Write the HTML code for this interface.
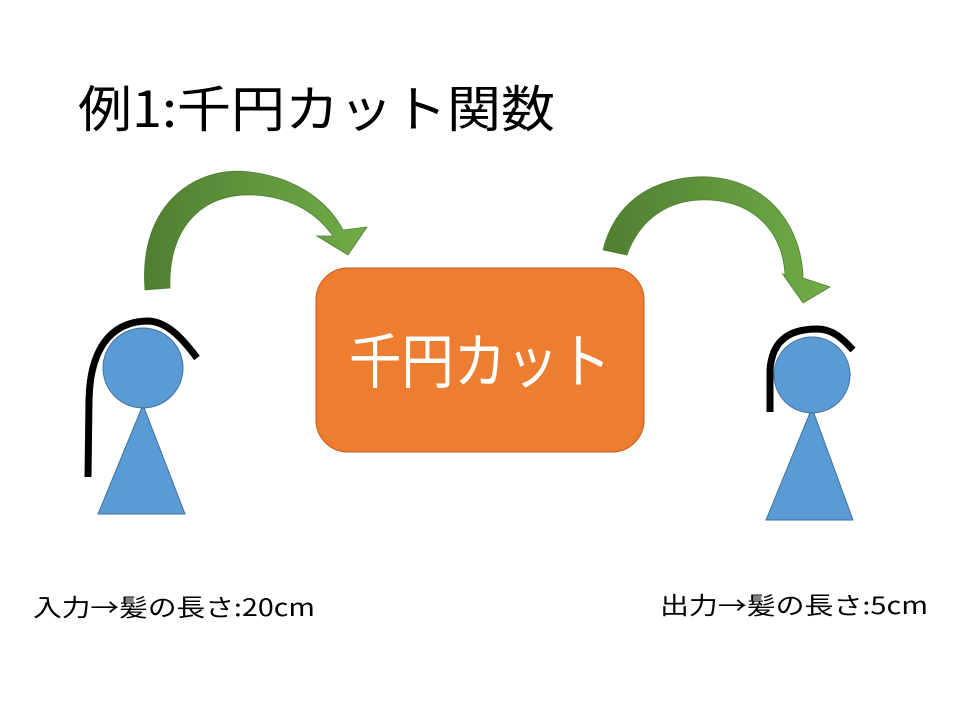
<!DOCTYPE html>
<html><head><meta charset="utf-8"><style>
html,body{margin:0;padding:0;background:#fff;}
svg{display:block;}
text{font-family:"Liberation Sans","Noto Sans CJK JP",sans-serif;}
.cjk{font-family:"Noto Sans CJK JP",sans-serif;}
</style></head><body>
<svg width="960" height="720" viewBox="0 0 960 720" xmlns="http://www.w3.org/2000/svg">
<defs>
<linearGradient id="g1" x1="0" y1="0" x2="1" y2="0">
<stop offset="0" stop-color="#507E32"/><stop offset="1" stop-color="#70AD47"/>
</linearGradient>
</defs>
<text class="cjk" x="78" y="127" font-size="50" textLength="477" lengthAdjust="spacingAndGlyphs" fill="#000">例1:千円カット関数</text>

<!-- left arrow -->
<path d="M145,290 C138,200 200,165 250,172 C300,178 330,205 343,230 L367,227 L348,255 L317,236 L333,236 C318,215 295,198 255,195 C205,192 168,225 170,288 Z" fill="url(#g1)" stroke="#507E32" stroke-width="0.8"/>
<!-- right arrow -->
<path d="M603,250 C618,190 670,175 710,177 C772,182 802,230 803,278 L830,287 L803,303 L782,273 L785,276 C784,238 760,203 710,200 C670,198 640,218 627,255 Z" fill="url(#g1)" stroke="#507E32" stroke-width="0.8"/>

<!-- box -->
<rect x="316" y="268" width="328" height="184" rx="32" fill="#ED7D31" stroke="#C55A11" stroke-width="1"/>
<text class="cjk" x="480" y="383" font-size="60" fill="#fff" text-anchor="middle" textLength="262" lengthAdjust="spacingAndGlyphs">千円カット</text>

<!-- left person -->
<polygon points="143,405 98,514 185,514" fill="#5B9BD5" stroke="#41719C" stroke-width="1"/>
<circle cx="143" cy="368" r="40" fill="#5B9BD5" stroke="#41719C" stroke-width="1"/>
<path d="M88,477 L89,400 C90,350 110,322 147,321 C165,321 180,335 197,358" fill="none" stroke="#000" stroke-width="7"/>

<!-- right person -->
<polygon points="812,408 766,520 853,520" fill="#5B9BD5" stroke="#41719C" stroke-width="1"/>
<circle cx="812" cy="375" r="38" fill="#5B9BD5" stroke="#41719C" stroke-width="1"/>
<path d="M770,412 L770,370 C772,340 790,329 817,329 C833,329 843,339 853,350" fill="none" stroke="#000" stroke-width="7"/>

<text class="cjk" x="33" y="616" font-size="24" fill="#000" textLength="282" lengthAdjust="spacingAndGlyphs">入力→髪の長さ:20cm</text>
<text class="cjk" x="660" y="614" font-size="24" fill="#000" textLength="268" lengthAdjust="spacingAndGlyphs">出力→髪の長さ:5cm</text>
</svg>
</body></html>
